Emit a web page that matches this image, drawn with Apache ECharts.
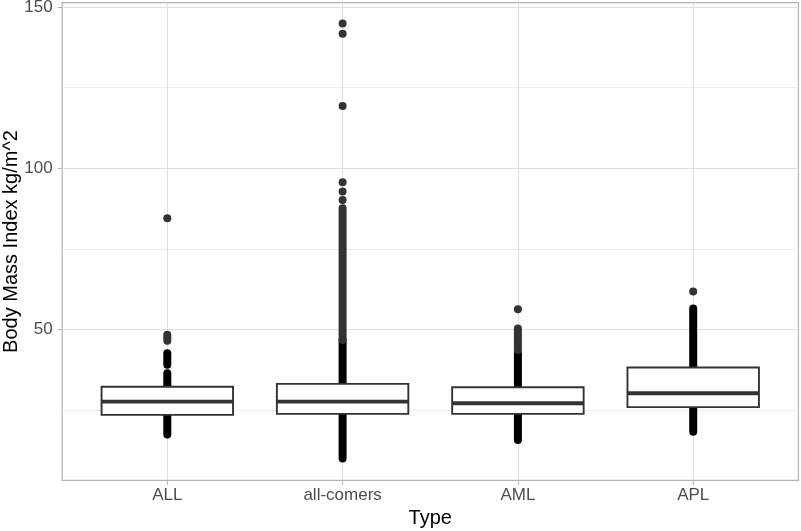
<!DOCTYPE html>
<html>
<head>
<meta charset="utf-8">
<script src="https://cdn.jsdelivr.net/npm/echarts@6/dist/echarts.min.js"></script>
<style>
html,body{margin:0;padding:0;background:#fff;}
#chart{width:801px;height:531px;}
</style>
</head>
<body>
<div id="chart"></div>
<script>
// ---- data ----
const categories = ['ALL', 'all-comers', 'AML', 'APL'];
const q1     = [23.6, 23.9, 23.9, 26.0];
const median = [27.7, 27.7, 27.2, 30.3];
const q3     = [32.3, 33.2, 32.15, 38.3];
// continuous columns of overplotted points: [category index, low, high, density]
const denseRuns = [
  [0, 17.5, 23.6, 'dense'],
  [0, 32.3, 36.5, 'dense'],
  [0, 39.1, 42.7, 'dense'],
  [0, 46.6, 48.4, 'sparse'],
  [1, 10.1, 23.9, 'dense'],
  [1, 33.2, 46.8, 'dense'],
  [1, 46.8, 87.6, 'sparse'],
  [2, 15.8, 23.9, 'dense'],
  [2, 32.15, 42.7, 'dense'],
  [2, 43.7, 50.4, 'sparse'],
  [3, 18.4, 26.0, 'dense'],
  [3, 38.3, 56.6, 'dense']
];
// isolated points: [category index, value]
const outliers = [
  [0, 84.5],
  [1, 90.2], [1, 92.8], [1, 95.7], [1, 119.3], [1, 141.7], [1, 144.9],
  [2, 56.3],
  [3, 61.8]
];
const yMajorTicks = [50, 100, 150];
const yAllGridTicks = [25, 50, 75, 100, 125, 150];
const yMin = 3.33, yMax = 151.33;

// ---- chart ----
const FONT = '"Liberation Sans", Arial, Helvetica, sans-serif';
const shadeColor = { dense: '#000000', sparse: '#333333' };
const chart = echarts.init(document.getElementById('chart'), null, { renderer: 'canvas' });

const option = {
  animation: false,
  backgroundColor: '#ffffff',
  textStyle: { fontFamily: FONT },
  grid: [
    { left: 167.3, right: 107.8, top: 2.7, bottom: 50.7, show: false, outerBoundsMode: 'none', containLabel: false },
    { left: 62.2, right: 2.6, top: 2.7, bottom: 50.7, show: true, outerBoundsMode: 'none', containLabel: false,
      borderColor: '#b3b3b3', borderWidth: 1.2, backgroundColor: 'transparent' }
  ],
  xAxis: [
    {
      gridIndex: 0, type: 'category', data: categories, boundaryGap: false,
      axisLine: { show: false },
      axisTick: { show: true, length: 4.5, lineStyle: { color: '#b3b3b3', width: 1 } },
      axisLabel: { interval: 0, margin: 7, fontSize: 17, color: '#4d4d4d', fontFamily: FONT },
      splitLine: { show: true, lineStyle: { color: '#dedede', width: 1 } },
      name: 'Type', nameLocation: 'middle', nameGap: 28, nameMoveOverlap: false,
      nameTextStyle: { fontSize: 20, color: '#000', fontFamily: FONT }
    },
    { gridIndex: 1, type: 'value', min: 0, max: 1, show: false }
  ],
  yAxis: [
    { gridIndex: 0, type: 'value', min: yMin, max: yMax, show: false },
    {
      gridIndex: 1, type: 'value', min: yMin, max: yMax, position: 'left',
      axisLine: { show: false },
      axisTick: { show: true, customValues: yMajorTicks, length: 4.5, lineStyle: { color: '#b3b3b3', width: 1 } },
      axisLabel: { customValues: yMajorTicks, margin: 9.6, fontSize: 17, color: '#4d4d4d', fontFamily: FONT },
      splitLine: { show: false },
      name: 'Body Mass Index kg/m^2', nameLocation: 'middle', nameGap: 40.5, nameRotate: 90, nameMoveOverlap: false,
      nameTextStyle: { fontSize: 20, color: '#000', fontFamily: FONT }
    },
    {
      gridIndex: 1, type: 'value', min: yMin, max: yMax, position: 'left',
      axisLine: { show: false },
      axisTick: { show: false, customValues: yAllGridTicks },
      axisLabel: { show: false, customValues: yAllGridTicks },
      splitLine: { show: true, lineStyle: { color: ['#ececec', '#dedede'], width: 1 } }
    }
  ],
  series: [
    {
      type: 'custom', name: 'runs', xAxisIndex: 0, yAxisIndex: 0, z: 2,
      data: denseRuns.map(r => [r[0], r[1], r[2]]),
      encode: { x: 0, y: [1, 2] },
      renderItem: function (params, api) {
        const c = api.value(0);
        const p1 = api.coord([c, api.value(1)]);
        const p2 = api.coord([c, api.value(2)]);
        const shade = shadeColor[denseRuns[params.dataIndex][3]];
        return {
          type: 'line',
          shape: { x1: p1[0], y1: p1[1], x2: p2[0], y2: p2[1] },
          style: { stroke: shade, lineWidth: 8, lineCap: 'round' }
        };
      }
    },
    {
      type: 'scatter', name: 'outliers', xAxisIndex: 0, yAxisIndex: 0, z: 3,
      data: outliers, symbol: 'circle', symbolSize: 8,
      itemStyle: { color: '#333333', opacity: 1 }
    },
    {
      type: 'custom', name: 'boxes', xAxisIndex: 0, yAxisIndex: 0, z: 4,
      data: categories.map((c, i) => [i, q1[i], median[i], q3[i]]),
      encode: { x: 0, y: [1, 2, 3] },
      renderItem: function (params, api) {
        const c = api.value(0);
        const pq1 = api.coord([c, api.value(1)]);
        const pmed = api.coord([c, api.value(2)]);
        const pq3 = api.coord([c, api.value(3)]);
        const bw = api.size([1, 0])[0] * 0.75;
        const x = pmed[0];
        return {
          type: 'group',
          children: [
            { type: 'rect', shape: { x: x - bw / 2, y: pq3[1], width: bw, height: pq1[1] - pq3[1] },
              style: { fill: '#ffffff', stroke: '#333333', lineWidth: 1.9 } },
            { type: 'line', shape: { x1: x - bw / 2, y1: pmed[1], x2: x + bw / 2, y2: pmed[1] },
              style: { stroke: '#333333', lineWidth: 3.8 } }
          ]
        };
      }
    }
  ]
};
chart.setOption(option);
</script>
</body>
</html>
